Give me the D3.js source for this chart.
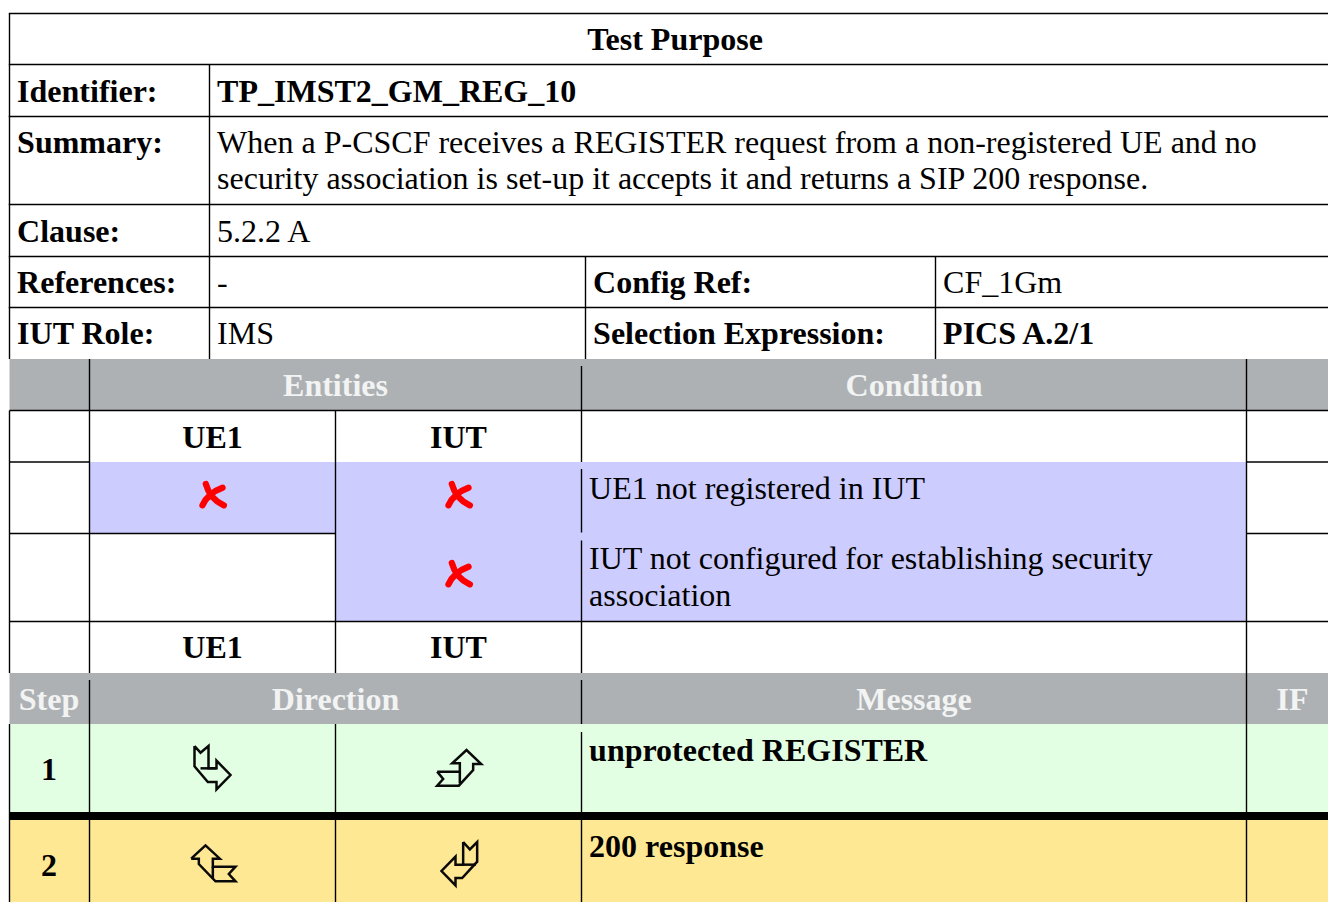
<!DOCTYPE html>
<html>
<head>
<meta charset="utf-8">
<script src="https://cdn.jsdelivr.net/npm/d3@7"></script>
<style>
html, body { margin: 0; padding: 0; background: #fff; overflow: hidden; }
svg { display: block; }
text { font-family: "Liberation Serif", serif; font-size: 32px; fill: #000; }
.bold { font-weight: bold; }
.head { font-weight: bold; fill: #f2f3f3; }
</style>
</head>
<body>
<div id="chart"></div>
<script>
// ---- content of the table ----
var title = "Test Purpose";
var metaLabels = ["Identifier:", "Summary:", "Clause:", "References:", "IUT Role:"];
var metaValues = ["TP_IMST2_GM_REG_10",
    ["When a P-CSCF receives a REGISTER request from a non-registered UE and no",
     "security association is set-up it accepts it and returns a SIP 200 response."],
    "5.2.2 A", "-", "IMS"];
var metaExtraLabels = ["Config Ref:", "Selection Expression:"];
var metaExtraValues = ["CF_1Gm", "PICS A.2/1"];
var preambleHeads = ["Entities", "Condition"];
var entities = ["UE1", "IUT"];
var conditions = ["UE1 not registered in IUT",
    ["IUT not configured for establishing security", "association"]];
var stepHeads = ["Step", "Direction", "Message", "IF"];
var steps = ["1", "2"];
var messages = ["unprotected REGISTER", "200 response"];

// ---- layout ----
var width = 1328, height = 902;
var svg = d3.select("#chart").append("svg").attr("width", width).attr("height", height);

// horizontal grid, one entry per row edge
var rowNames = ["title", "id", "summary", "clause", "refs", "role", "headA", "entA", "cond1", "cond2", "entB", "headB", "step1", "step2"];
var rowTops = [13.5, 64.5, 116.5, 204.5, 256.5, 307.5, 359, 410.5, 462, 533.5, 621.5, 673, 724, 820];
var rowBottoms = [64.5, 116.5, 204.5, 256.5, 307.5, 359, 410.5, 462, 533.5, 621.5, 673, 724, 812, 902];
var rowTop = d3.scaleOrdinal(rowNames, rowTops);
var rowBottom = d3.scaleOrdinal(rowNames, rowBottoms);

// vertical grid
var xA = d3.scaleOrdinal(["left", "value", "label2", "value2"], [9.5, 209.5, 585.5, 935.5]);
var xB = d3.scaleOrdinal(["left", "ue", "iut", "msg", "ifc", "right"], [9.5, 89.5, 335.5, 581.5, 1246.5, 1338]);

var pad = 7.6;
var mid = function(a, b) { return (xB(a) + xB(b)) / 2; };

var g = svg.append("g");

function fillBox(x0, x1, y0, y1, color) {
    g.append("rect").attr("x", x0).attr("y", y0).attr("width", x1 - x0).attr("height", y1 - y0).attr("fill", color);
}
function hLine(x0, x1, y, w) {
    g.append("line").attr("x1", x0).attr("x2", x1).attr("y1", y).attr("y2", y)
        .attr("stroke", "#000").attr("stroke-width", w || 1.4);
}
function vLine(x, y0, y1) {
    g.append("line").attr("x1", x).attr("x2", x).attr("y1", y0).attr("y2", y1)
        .attr("stroke", "#000").attr("stroke-width", 1.4);
}
function label(x, y, s, cls, anchor) {
    g.append("text").attr("x", x).attr("y", y).attr("class", cls || null)
        .attr("text-anchor", anchor || "start").text(s);
}

// ---- fills ----
var gray = "#aeb1b3", lavender = "#ccccff", green = "#e3ffe3", yellow = "#ffe894";
fillBox(xB("left"), width, rowTop("headA"), rowBottom("headA"), gray);
fillBox(xB("left"), width, rowTop("headB"), rowBottom("headB"), gray);
fillBox(xB("ue"), xB("iut"), rowTop("cond1"), rowBottom("cond1"), lavender);
fillBox(xB("iut"), xB("ifc"), rowTop("cond1"), rowBottom("cond2"), lavender);
fillBox(xB("left"), width, rowTop("step1"), rowBottom("step1"), green);
fillBox(xB("left"), width, rowTop("step2"), rowBottom("step2"), yellow);

// ---- horizontal rules ----
["title", "id", "summary", "clause", "refs", "role"].forEach(function(r) { hLine(xA("left") - 0.7, width, rowTop(r)); });
hLine(xB("left"), width, rowBottom("headA"));
hLine(xB("left"), xB("ue"), rowTop("cond1"));
hLine(xB("ifc"), width, rowTop("cond1"));
hLine(xB("left"), xB("iut"), rowTop("cond2"));
hLine(xB("ifc"), width, rowTop("cond2"));
hLine(xB("left"), width, rowTop("entB"));
g.append("rect").attr("x", xB("left")).attr("y", rowBottom("step1")).attr("width", width)
    .attr("height", rowTop("step2") - rowBottom("step1")).attr("fill", "#000");

// ---- vertical rules ----
vLine(xA("left"), rowTop("title"), rowTop("headA"));
vLine(xA("value"), rowTop("id"), rowTop("headA"));
vLine(xA("label2"), rowTop("refs"), rowTop("headA"));
vLine(xA("value2"), rowTop("refs"), rowTop("headA"));
vLine(xB("left"), rowBottom("headA"), rowBottom("entB"));
vLine(xB("left"), rowTop("step1"), height);
vLine(xB("ue"), rowTop("headA"), rowBottom("entB"));
vLine(xB("ue"), rowTop("headB") + 7, height);
vLine(xB("iut"), rowTop("entA"), rowBottom("entB"));
vLine(xB("iut"), rowTop("step1"), height);
vLine(xB("msg"), rowTop("headA") + 7, rowTop("cond1"));
vLine(xB("msg"), rowTop("cond1") + 7, rowTop("cond2") - 1);
vLine(xB("msg"), rowTop("cond2") + 7, rowBottom("entB"));
vLine(xB("msg"), rowTop("headB") + 7, rowBottom("headB"));
vLine(xB("msg"), rowTop("step1") + 8, rowBottom("step1"));
vLine(xB("msg"), rowTop("step2"), height);
vLine(xB("ifc"), rowTop("headA"), height);

// ---- text: upper block ----
label(675, 50, title, "bold", "middle");
var metaBaselines = [102, 153, 242, 293, 344];
metaLabels.forEach(function(s, i) { label(xA("left") + pad, metaBaselines[i], s, "bold"); });
metaValues.forEach(function(v, i) {
    var cls = i === 0 ? "bold" : null;
    [].concat(v).forEach(function(s, j) { label(xA("value") + pad, metaBaselines[i] + j * 36, s, cls); });
});
metaExtraLabels.forEach(function(s, i) { label(xA("label2") + pad, metaBaselines[3 + i], s, "bold"); });
metaExtraValues.forEach(function(s, i) { label(xA("value2") + pad, metaBaselines[3 + i], s, i === 1 ? "bold" : null); });

// ---- text: preamble ----
label(mid("ue", "msg"), 396, preambleHeads[0], "head", "middle");
label(mid("msg", "ifc"), 396, preambleHeads[1], "head", "middle");
[448, 658].forEach(function(y) {
    label(mid("ue", "iut"), y, entities[0], "bold", "middle");
    label(mid("iut", "msg"), y, entities[1], "bold", "middle");
});
label(xB("msg") + pad, 499, conditions[0]);
conditions[1].forEach(function(s, j) { label(xB("msg") + pad, 569 + j * 37, s); });

// ---- text: steps ----
label(49, 710, stepHeads[0], "head", "middle");
label(mid("ue", "msg"), 710, stepHeads[1], "head", "middle");
label(mid("msg", "ifc"), 710, stepHeads[2], "head", "middle");
label(1292.5, 710, stepHeads[3], "head", "middle");
steps.forEach(function(s, i) { label(49, [780, 876][i], s, "bold", "middle"); });
messages.forEach(function(s, i) { label(xB("msg") + pad, [761, 857][i], s, "bold"); });

// ---- symbols, outlines drawn at 3x around the cell centre ----
var line = d3.line();
var crossPaths = ["M-20,-33 Q-8,12 34,31", "M30,-22 Q-14,-6 -30,31"];
function cross(cx, cy) {
    var c = g.append("g").attr("transform", "translate(" + cx + "," + cy + ") scale(0.3333)");
    c.selectAll("path").data(crossPaths).join("path").attr("d", function(d) { return d; })
        .attr("fill", "none").attr("stroke", "#f00").attr("stroke-width", 19).attr("stroke-linecap", "round");
}
cross(mid("ue", "iut"), 495);
cross(mid("iut", "msg"), 495);
cross(mid("iut", "msg"), 574);

var arrowRightDown = { outline: [[-54,-69],[-36,-49],[-12,-69],[-12,-2],[12,-2],[12,-25],[54,18],[12,61],[12,39],[-14,39],[-54,-8],[-54,-69]], inner: [[-36,-2],[12,-2]] };
var arrowUpRight = { outline: [[-64,8],[4,8],[4,-17],[-19,-17],[24,-57],[68,-15],[44,-15],[44,3],[1,50],[-64,50],[-46,30],[-64,8]], inner: [[4,8],[4,43]] };
var arrowUpLeft = { outline: [[-64,-22],[-21,-62],[22,-22],[1,-22],[1,2],[69,2],[49,24],[69,46],[9,46],[-41,-6],[-41,-22],[-64,-22]], inner: [[1,2],[1,38]] };
var arrowDownLeft = { outline: [[14,-72],[34,-50],[56,-72],[56,-13],[11,36],[-9,36],[-9,58],[-51,15],[-9,-28],[-9,-4],[14,-4],[14,-72]], inner: [[14,-4],[52,-4]] };
function arrow(shape, cx, cy) {
    var a = g.append("g").attr("transform", "translate(" + cx + "," + cy + ") scale(0.3333)");
    a.selectAll("path").data([shape.outline, shape.inner]).join("path").attr("d", line)
        .attr("fill", "none").attr("stroke", "#0a0a0a").attr("stroke-width", 7.5).attr("stroke-linejoin", "miter");
}
arrow(arrowRightDown, mid("ue", "iut"), 769);
arrow(arrowUpRight, mid("iut", "msg"), 769);
arrow(arrowUpLeft, mid("ue", "iut"), 866);
arrow(arrowDownLeft, mid("iut", "msg"), 866);
</script>
</body>
</html>
